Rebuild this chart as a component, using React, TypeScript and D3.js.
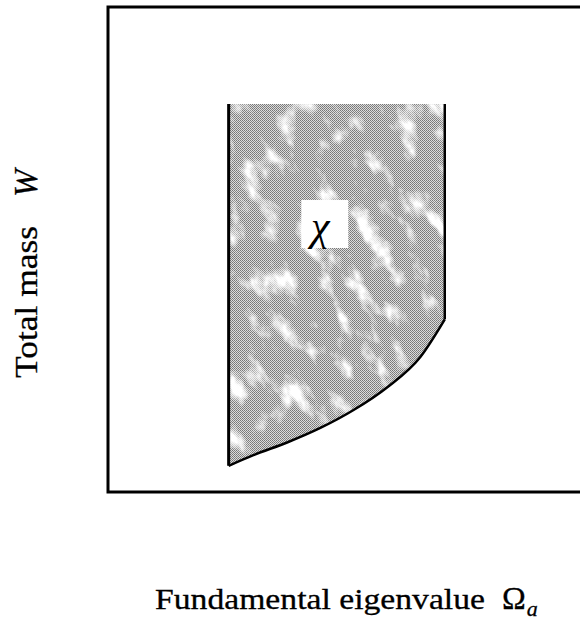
import React from "react";
import * as d3 from "d3";

// Feasible region chi in the (Omega_a, W) plane, normalised 0..100 on both axes
const leftOmega = 25.4;
const rightOmega = 70.9;
const topMass = 80.0;

// lower boundary of the region (minimum mass for each eigenvalue)
const boundaryOmega = [25.4, 30.6, 37.7, 44.7, 51.7, 58.8, 65.8, 70.9];
const boundaryMass = [5.4, 7.6, 10.2, 13.2, 16.9, 21.6, 27.9, 35.6];

const regionLabel = "χ";
const regionLabelAt = [44.7, 53.4];

const xTitle = "Fundamental eigenvalue";
const yTitle = "Total mass";

const W = 580;
const H = 629;
const frame = { left: 108, top: 7, right: 583, bottom: 492 };
const serif = "'Liberation Serif', 'Times New Roman', serif";

export default function App() {
  const x = d3.scaleLinear().domain([0, 100]).range([frame.left, frame.right]);
  const y = d3.scaleLinear().domain([0, 100]).range([frame.bottom, frame.top]);

  const lower = boundaryOmega.map((o, i) => [o, boundaryMass[i]] as [number, number]);

  const curve = d3
    .line<[number, number]>()
    .x((d) => x(d[0]))
    .y((d) => y(d[1]))
    .curve(d3.curveMonotoneX);

  // closed outline: across the top, down the right, back along the curve
  const lowerPath = curve(lower) || "";
  const regionPath =
    `M${x(leftOmega)},${y(topMass)}` +
    `L${x(rightOmega)},${y(topMass)}` +
    `L${x(rightOmega)},${y(boundaryMass[boundaryMass.length - 1])}` +
    curve(lower.slice().reverse())!.replace(/^M/, "L") +
    "Z";

  // drawn edges: left, right and the lower curve (the top stays open)
  const leftEdge = `M${x(leftOmega)},${y(topMass)}L${x(leftOmega)},${y(boundaryMass[0])}`;
  const rightEdge = `M${x(rightOmega)},${y(topMass)}L${x(rightOmega)},${y(boundaryMass[boundaryMass.length - 1])}`;

  const lx = x(regionLabelAt[0]);
  const ly = y(regionLabelAt[1]);

  // noise is generated in a rotated frame so the white blotches streak diagonally
  const cx = (x(leftOmega) + x(rightOmega)) / 2;
  const cy = (y(topMass) + y(boundaryMass[0])) / 2;
  const ang = 60;

  const ink = { fill: "#000", stroke: "#000", strokeWidth: 0.3 };

  return (
    <svg
      width={W}
      height={H}
      viewBox={`0 0 ${W} ${H}`}
      style={{ position: "absolute", left: 0, top: 0, background: "#fff" }}
    >
      <defs>
        <pattern id="halftone" width="2" height="2" patternUnits="userSpaceOnUse">
          <rect width="2" height="2" fill="#dcdcdc" />
          <rect width="1" height="1" fill="#767676" />
          <rect x="1" y="1" width="1" height="1" fill="#858585" />
        </pattern>
        <filter id="blotch" filterUnits="userSpaceOnUse" x="-1000" y="-1000" width="3000" height="3000">
          <feTurbulence type="fractalNoise" baseFrequency="0.028 0.05" numOctaves="5" seed="5" result="noise" />
          <feColorMatrix
            in="noise"
            type="matrix"
            values="0 0 0 0 1  0 0 0 0 1  0 0 0 0 1  1 0 0 0 0"
            result="wn"
          />
          <feComponentTransfer in="wn" result="mask">
            <feFuncA type="linear" slope="4" intercept="-2.05" />
          </feComponentTransfer>
          <feComposite in="mask" in2="SourceGraphic" operator="in" />
        </filter>
      </defs>

      <path d={regionPath} fill="url(#halftone)" stroke="none" />
      <g transform={`rotate(${ang} ${cx} ${cy})`} filter="url(#blotch)">
        <path d={regionPath} transform={`rotate(${-ang} ${cx} ${cy})`} fill="#fff" stroke="none" />
      </g>

      <path d={leftEdge} fill="none" stroke="#000" strokeWidth={3} />
      <path d={rightEdge} fill="none" stroke="#000" strokeWidth={2.5} />
      <path d={lowerPath} fill="none" stroke="#000" strokeWidth={2.5} />

      <rect x={lx - 19} y={ly - 33} width={47} height={48} fill="#fff" />
      <text x={lx} y={ly + 7} textAnchor="middle" fontFamily={serif} fontSize={42} fontStyle="italic" fill="#000">
        {regionLabel}
      </text>

      <rect
        x={frame.left}
        y={frame.top}
        width={frame.right - frame.left}
        height={frame.bottom - frame.top}
        fill="none"
        stroke="#000"
        strokeWidth={3}
      />

      <text x={155} y={609} fontFamily={serif} fontSize={29} {...ink} textLength={330} lengthAdjust="spacingAndGlyphs">
        {xTitle}
      </text>
      <text x={502} y={609} fontFamily={serif} fontSize={32} {...ink}>
        Ω
        <tspan dx={1} dy={7} fontSize={22} fontStyle="italic">
          a
        </tspan>
      </text>

      <g transform="translate(37,378) rotate(-90)">
        <text x={0} y={0} fontFamily={serif} fontSize={31} {...ink} textLength={152} lengthAdjust="spacingAndGlyphs">
          {yTitle}
        </text>
        <text x={181} y={0} fontFamily={serif} fontSize={33} fontStyle="italic" {...ink}>
          W
        </text>
      </g>
    </svg>
  );
}
